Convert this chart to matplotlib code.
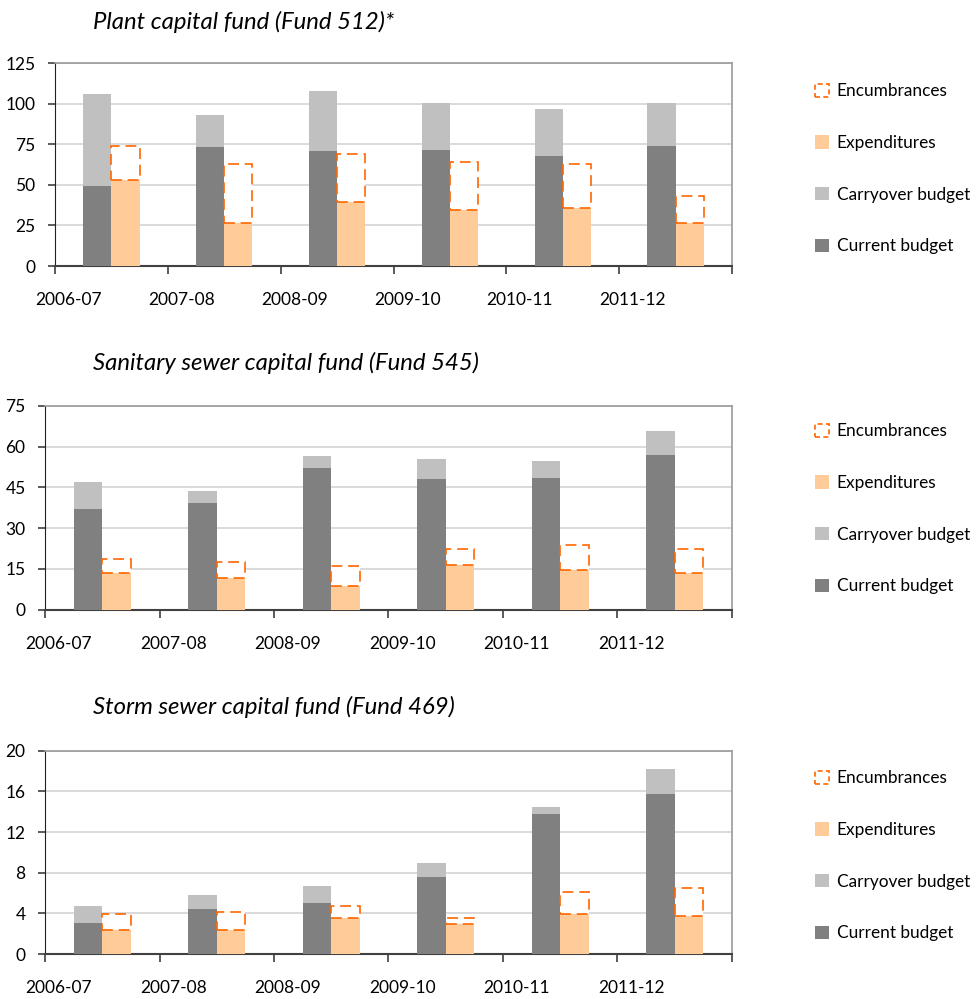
import matplotlib
matplotlib.use("Agg")
from matplotlib import pyplot as plt
from matplotlib.patches import Patch
import numpy as np

years = ["2006-07", "2007-08", "2008-09", "2009-10", "2010-11", "2011-12"]

# Plant capital fund (Fund 512)
plant_current = [49, 73, 71, 71.5, 68, 74]
plant_carryover = [57, 20, 37, 29, 29, 26.5]
plant_exp = [53, 26.5, 39.5, 34.5, 35.5, 26.5]
plant_enc = [21, 36.5, 29.5, 29.5, 27.5, 16.5]

# Sanitary sewer capital fund (Fund 545)
sanitary_current = [37, 39.3, 52.2, 48.1, 48.5, 57]
sanitary_carryover = [10, 4.4, 4.4, 7.4, 6.2, 8.8]
sanitary_exp = [13.5, 11.5, 8.6, 16.3, 14.6, 13.5]
sanitary_enc = [5.3, 6.2, 7.4, 6.2, 9.1, 9.0]

# Storm sewer capital fund (Fund 469)
storm_current = [3.05, 4.43, 5.02, 7.57, 13.77, 15.77]
storm_carryover = [1.67, 1.37, 1.67, 1.38, 0.69, 2.43]
storm_exp = [2.36, 2.39, 3.54, 2.92, 3.9, 3.74]
storm_enc = [1.54, 1.77, 1.15, 0.65, 2.23, 2.72]

DARK = "#808080"
LIGHT = "#c0c0c0"
PEACH = "#ffcc99"
ORANGE = "#ff6600"

plt.rcParams["font.family"] = ["Lato", "DejaVu Sans"]

fig = plt.figure(figsize=(9.77, 9.99), dpi=100)

panels = [
    ("Plant capital fund (Fund 512)*", plant_current, plant_carryover, plant_exp, plant_enc,
     125, 25, [0.0563, 0.7337, 0.6930, 0.2032], 22, 0.9166),
    ("Sanitary sewer capital fund (Fund 545)", sanitary_current, sanitary_carryover, sanitary_exp, sanitary_enc,
     75, 15, [0.0461, 0.3897, 0.7030, 0.2039], 363, 0.5763),
    ("Storm sewer capital fund (Fund 469)", storm_current, storm_carryover, storm_exp, storm_enc,
     20, 4, [0.0461, 0.0450, 0.7030, 0.2035], 707, 0.2289),
]

x = np.arange(len(years))
w = 0.25

for title, cur, carry, exp, enc, ymax, ystep, rect, title_y, leg_y in panels:
    ax = fig.add_axes(rect)
    ax.bar(x + 0.25, cur, width=w, align="edge", color=DARK, zorder=3)
    ax.bar(x + 0.25, carry, width=w, align="edge", bottom=cur, color=LIGHT, zorder=3)
    ax.bar(x + 0.5, exp, width=w, align="edge", color=PEACH, zorder=3)
    ax.bar(x + 0.5, enc, width=w, align="edge", bottom=exp, facecolor="white",
           edgecolor=ORANGE, linestyle=(0, (6.5, 3.5)), linewidth=1.2, zorder=4)

    ax.set_xlim(0, len(years))
    ax.set_ylim(0, ymax)
    ax.set_yticks(np.arange(0, ymax + 1, ystep))
    ax.yaxis.grid(True, color="#d4d4d4", linewidth=1.2, zorder=0)
    ax.set_axisbelow(True)

    # tick marks on the category boundaries, labels nudged right of them
    ax.set_xticks(np.arange(len(years) + 1), minor=True)
    ax.set_xticks(x + 0.12)
    ax.set_xticklabels(years)
    ax.tick_params(axis="x", which="major", length=0, pad=19, labelsize=12.5)
    ax.tick_params(axis="x", which="minor", length=6, width=1.2, color="#404040")
    ax.tick_params(axis="y", length=5, width=1.2, pad=9, labelsize=12.5, color="#404040")

    for side in ("top", "right"):
        ax.spines[side].set_color("#9a9a9a")
        ax.spines[side].set_linewidth(1.2)
    ax.spines["left"].set_color("#202020")
    ax.spines["bottom"].set_color("#404040")
    ax.spines["bottom"].set_linewidth(1.5)

    fig.text(93 / 977, 1 - title_y / 999, title, fontsize=17.2, style="italic",
             ha="left", va="center")

    handles = [
        Patch(facecolor="white", edgecolor=ORANGE, linestyle=(0, (3, 2)), linewidth=1.2),
        Patch(facecolor=PEACH),
        Patch(facecolor=LIGHT),
        Patch(facecolor=DARK),
    ]
    labels = ["Encumbrances", "Expenditures", "Carryover budget", "Current budget"]
    ax.legend(handles, labels, loc="upper left", bbox_to_anchor=(815 / 977, leg_y),
              bbox_transform=fig.transFigure, frameon=False, fontsize=12.4,
              handlelength=0.8, handleheight=0.8, handletextpad=0.45,
              labelspacing=2.07, borderpad=0, borderaxespad=0)

fig.savefig("out.png", dpi=100)
